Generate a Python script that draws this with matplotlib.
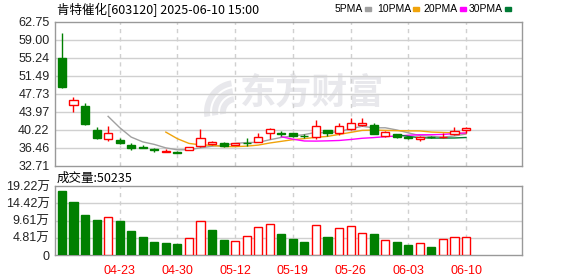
import numpy as np
import pandas as pd
import matplotlib
matplotlib.use("Agg")
from matplotlib import pyplot as plt

# daily K-line
opens = [55.24, 45.31, 45.16, 40.16, 38.22, 38.07, 37.03, 36.67, 36.26, 35.63,
         35.63, 35.92, 36.82, 37.17, 37.38, 37.03, 37.50, 37.72, 39.47, 39.35,
         39.47, 38.95, 38.76, 40.16, 39.60, 40.36, 41.30, 41.20, 38.90, 39.26,
         38.65, 38.27, 38.75, 38.60, 39.32, 40.09]
highs = [60.45, 47.04, 45.79, 40.78, 40.99, 38.55, 37.38, 36.96, 36.40, 36.26,
         35.70, 36.60, 40.36, 37.93, 37.70, 37.45, 38.43, 39.47, 40.64, 40.00,
         39.60, 39.30, 42.24, 40.25, 41.55, 42.72, 42.60, 41.68, 39.90, 39.40,
         38.90, 38.95, 38.90, 39.47, 40.70, 40.85]
lows = [48.85, 43.85, 41.26, 38.28, 37.92, 37.24, 36.05, 36.40, 35.50, 35.63,
        35.35, 35.90, 36.55, 37.10, 36.67, 37.00, 36.88, 37.60, 38.22, 38.90,
        38.80, 38.40, 38.22, 38.97, 39.11, 40.20, 40.99, 39.26, 38.80, 38.43,
        38.28, 37.92, 38.50, 38.50, 39.20, 39.60]
closes = [49.19, 46.35, 41.47, 38.55, 39.47, 37.45, 36.46, 36.46, 35.92, 35.84,
          35.45, 36.55, 38.43, 37.59, 36.88, 37.38, 37.40, 38.63, 40.30, 39.32,
          38.90, 38.85, 40.99, 39.60, 40.99, 41.55, 41.60, 39.30, 39.68, 38.70,
          38.55, 38.70, 38.60, 38.75, 40.01, 40.50]
# volume in 万 shares, and whether the bar is drawn red (up on previous close)
volumes = [17.83, 14.77, 11.23, 9.75, 10.50, 9.47, 6.69, 5.01, 3.62, 3.43,
           3.06, 4.64, 9.38, 6.97, 4.18, 3.81, 5.20, 7.71, 8.64, 5.85,
           4.46, 3.62, 8.26, 5.01, 7.43, 7.99, 6.04, 5.85, 4.09, 3.62,
           2.79, 3.25, 2.23, 4.37, 4.92, 5.02]
vol_up = [0, 0, 0, 0, 1, 0, 0, 0, 0, 0, 0, 1, 1, 0, 0, 1, 1, 1, 1, 0,
          0, 0, 1, 0, 1, 1, 1, 0, 1, 0, 0, 1, 0, 1, 1, 1]

date_pos = [5, 10, 15, 20, 25, 30, 35]
date_labels = ["04-23", "04-30", "05-12", "05-19", "05-26", "06-03", "06-10"]
price_ticks = [32.71, 36.46, 40.22, 43.97, 47.73, 51.49, 55.24, 59.00, 62.75]
vol_ticks = [0, 4.81, 9.61, 14.42, 19.22]
vol_labels = ["0", "4.81万", "9.61万", "14.42万", "19.22万"]

ma_periods = [5, 10, 20, 30]
ma_colors = ["#a0a0a0", "#f0a30a", "#ff00ff", "#007a35"]

RED = "#ff0000"
GREEN = "#008000"
GRID = "#d0d0d0"
FRAME = "#999999"
WM = "#e8e8ec"
num_font = ["Liberation Sans", "Noto Sans CJK SC"]
cjk_font = ["Noto Sans CJK SC", "DejaVu Sans"]

W, H = 578, 276
fig = plt.figure(figsize=(W / 100, H / 100), dpi=100)
ax = fig.add_axes([55 / W, 1 - 165.7 / H, 467 / W, 144 / H])
axv = fig.add_axes([55 / W, 1 - 255 / H, 467 / W, 69 / H])

x = np.arange(len(closes))
xlim = (-0.6, 39.85)

# watermark: logo swoosh + name
ax.text(240 / W, 1 - 93 / H, "东方财富", transform=fig.transFigure, fontsize=26,
        fontweight="bold", color=WM, family=cjk_font, va="center", zorder=0)
for k, (r0, r1) in enumerate([(10, 16), (18, 24), (26, 32)]):
    th = np.linspace(np.pi * 0.55, np.pi * 1.05, 30)
    cx, cy = 236, 112
    xs = np.r_[cx + r1 * np.cos(th), cx + r0 * np.cos(th[::-1])]
    ys = np.r_[cy - r1 * np.sin(th), cy - r0 * np.sin(th[::-1])]
    ax.fill(xs / W, 1 - ys / H, color=WM, transform=fig.transFigure, zorder=0, lw=0)

# candles
for i in x:
    o, h, l, c = opens[i], highs[i], lows[i], closes[i]
    up = c >= o
    col = RED if up else GREEN
    lo_b, hi_b = min(o, c), max(o, c)
    if up:
        ax.vlines(i, l, lo_b, color=col, lw=1, zorder=3)
        ax.vlines(i, hi_b, h, color=col, lw=1, zorder=3)
    else:
        ax.vlines(i, l, h, color=col, lw=1, zorder=3)
    ax.bar(i, max(hi_b - lo_b, 0.12), bottom=lo_b, width=0.7,
           facecolor="white" if up else col, edgecolor=col, lw=1, zorder=4)

# moving averages
s = pd.Series(closes)
for p, col in zip(ma_periods, ma_colors):
    ax.plot(x, s.rolling(p).mean(), color=col, lw=1, zorder=2)

ax.set_xlim(*xlim)
ax.set_ylim(price_ticks[0], price_ticks[-1])
ax.set_yticks(price_ticks)
ax.set_yticklabels([f"{t:.2f}" for t in price_ticks], family=num_font, fontsize=9,
                   color="#222222")
ax.set_xticks([])
for t in price_ticks[1:-1]:
    ax.axhline(t, color=GRID, lw=1, zorder=1)
for d in date_pos:
    ax.axvline(d, color=GRID, lw=1, ls=(0, (3, 3)), zorder=1)

# volume
for i in x:
    col = RED if vol_up[i] else GREEN
    axv.bar(i, volumes[i], width=0.7, facecolor="white" if vol_up[i] else col,
            edgecolor=col, lw=1, zorder=3)
axv.set_xlim(*xlim)
axv.set_ylim(0, vol_ticks[-1])
axv.set_yticks(vol_ticks)
axv.set_yticklabels(vol_labels, family=num_font, fontsize=9, color="#222222")
axv.set_xticks(date_pos)
axv.set_xticklabels(date_labels, family=num_font, fontsize=9, color=RED)
for t in vol_ticks[1:-1]:
    axv.axhline(t, color=GRID, lw=1, zorder=1)
for d in date_pos:
    axv.axvline(d, color=GRID, lw=1, ls=(0, (3, 3)), zorder=1)

for a in (ax, axv):
    a.tick_params(length=0, pad=4)
    for sp in a.spines.values():
        sp.set_color(FRAME)
        sp.set_linewidth(1)
axv.tick_params(axis="x", pad=7)

# header texts
fig.text(57 / W, 1 - 10 / H, "肯特催化[603120] 2025-06-10 15:00", family=cjk_font,
         fontsize=9, va="center", color="#000000")
fig.text(57 / W, 1 - 178 / H, "成交量:50235", family=cjk_font, fontsize=9,
         va="center", color="#000000")

# legend: label ends just left of its colour dash
leg_sq = [365, 413, 460, 505]
for p, col, sx in zip(ma_periods, ma_colors, leg_sq):
    fig.text((sx - 2) / W, 1 - 9 / H, f"{p}PMA", family=num_font, fontsize=7.5,
             ha="right", va="center", color="#000000")
    fig.patches.append(plt.Rectangle((sx / W, (H - 10.5) / H), 6 / W, 3 / H,
                                     transform=fig.transFigure, color=col))

fig.savefig("out.png", dpi=100)
